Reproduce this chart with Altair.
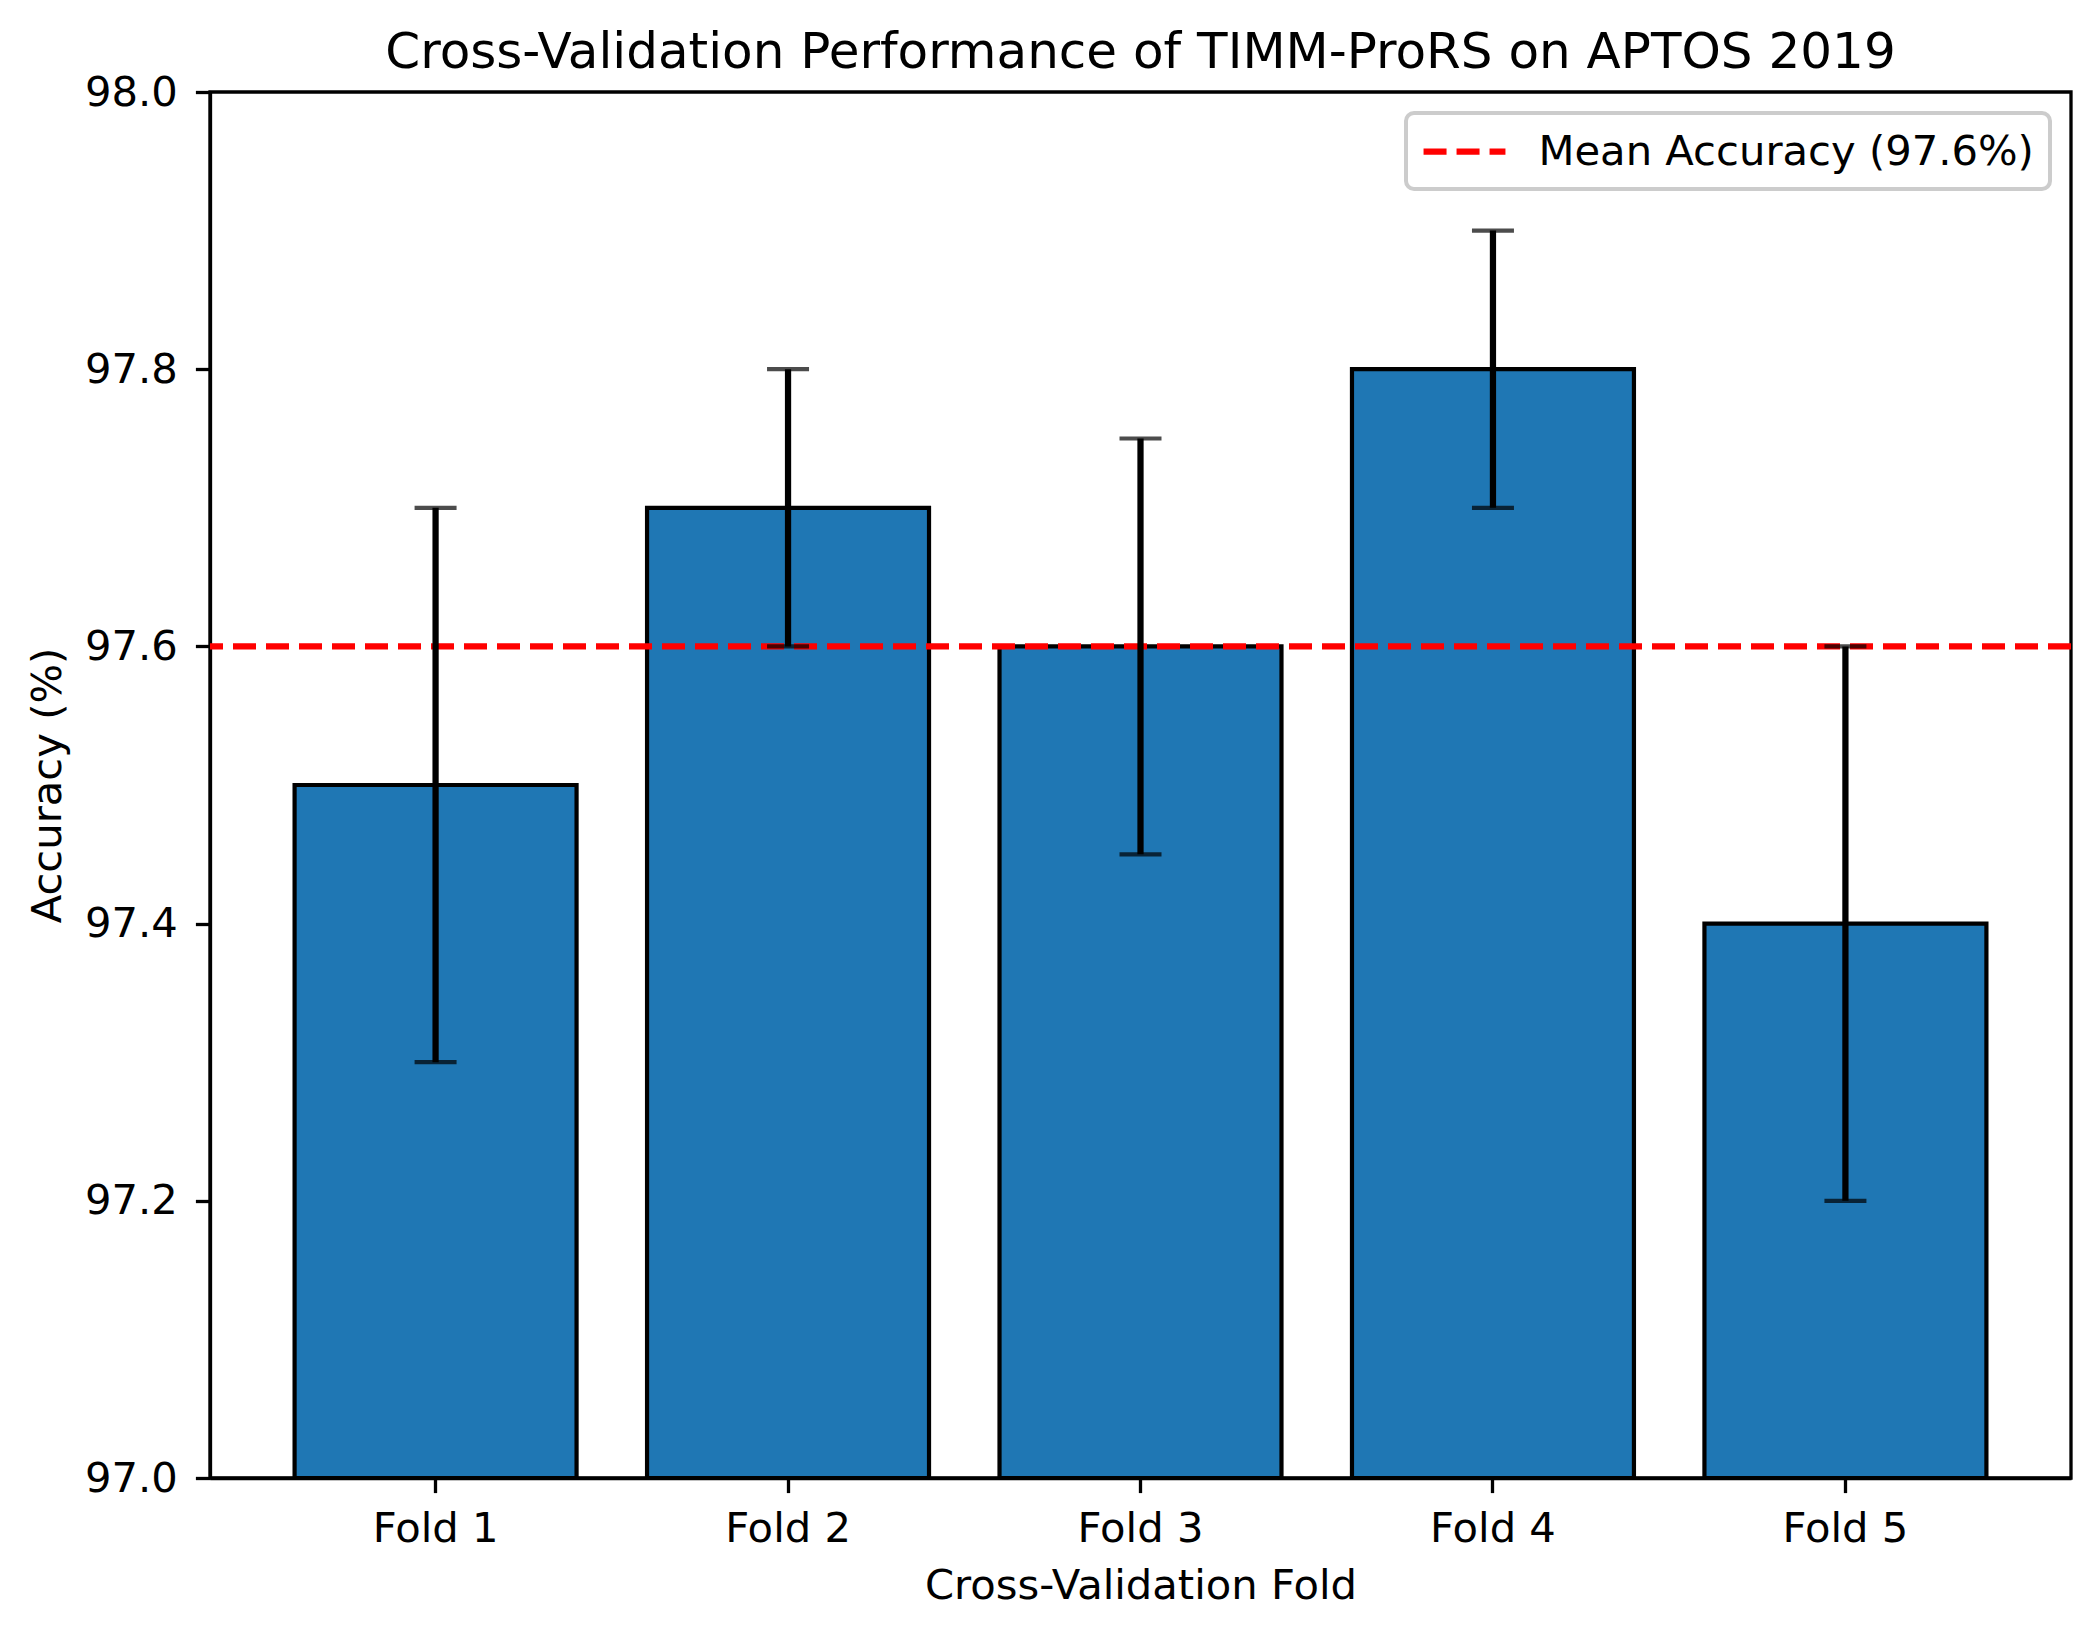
import altair as alt
import pandas as pd

folds = ["Fold 1", "Fold 2", "Fold 3", "Fold 4", "Fold 5"]
accuracy = [97.5, 97.7, 97.6, 97.8, 97.4]
errors = [0.2, 0.1, 0.15, 0.1, 0.2]
mean_acc = 97.6
mean_label = "Mean Accuracy (97.6%)"
y_ticks = [97.0, 97.2, 97.4, 97.6, 97.8, 98.0]

df = pd.DataFrame({
    "fold": folds,
    "acc": accuracy,
    "lo": [a - e for a, e in zip(accuracy, errors)],
    "hi": [a + e for a, e in zip(accuracy, errors)],
    "base": [97.0] * len(folds),
})
mean_df = pd.DataFrame({"mean": [mean_acc], "label": [mean_label]})

FONT = "DejaVu Sans"
FS = 41.7

x_enc = alt.X(
    "fold:N",
    sort=folds,
    scale=alt.Scale(paddingInner=0.2, paddingOuter=0.24),
    axis=alt.Axis(
        title="Cross-Validation Fold",
        labelAngle=0,
        labelPadding=16,
        titlePadding=15,
    ),
)
y_scale = alt.Scale(domain=[97.0, 98.0], zero=False, nice=False)
y_axis = alt.Axis(
    title="Accuracy (%)",
    values=y_ticks,
    format=".1f",
    labelPadding=18,
    titlePadding=15,
)

bars = alt.Chart(df).mark_bar(
    color="#1f77b4", stroke="black", strokeWidth=4.2
).encode(
    x=x_enc,
    y=alt.Y("acc:Q", scale=y_scale, axis=y_axis),
    y2="base:Q",
)

stems = alt.Chart(df).mark_rule(color="black", strokeWidth=6.25).encode(
    x=alt.X("fold:N", sort=folds),
    y="lo:Q",
    y2="hi:Q",
)

caps_lo = alt.Chart(df).mark_tick(
    color="black", size=42, thickness=4.2, orient="horizontal"
).encode(x=alt.X("fold:N", sort=folds), y="lo:Q")
caps_hi = alt.Chart(df).mark_tick(
    color="black", size=42, thickness=4.2, orient="horizontal"
).encode(x=alt.X("fold:N", sort=folds), y="hi:Q")

mean_line = alt.Chart(mean_df).mark_rule(
    strokeDash=[23, 10], strokeWidth=6.25
).encode(
    y="mean:Q",
    color=alt.Color(
        "label:N",
        scale=alt.Scale(domain=[mean_label], range=["#ff0000"]),
        legend=alt.Legend(
            title=None,
            orient="none",
            legendX=1196,
            legendY=21,
            symbolType="M-2.1,0H2.1",
            symbolSize=1521,
            symbolStrokeWidth=6.25,
            symbolOffset=20,
            labelOffset=51,
            labelFontSize=FS,
            labelFont=FONT,
            labelColor="black",
            labelLimit=1000,
            padding=15.5,
            strokeColor="#cccccc",
            fillColor="white",
            cornerRadius=8,
        ),
    ),
)

chart = alt.layer(bars, mean_line, stems, caps_lo, caps_hi).properties(
    width=1861,
    height=1386,
    background="white",
    title=alt.TitleParams(
        "Cross-Validation Performance of TIMM-ProRS on APTOS 2019",
        fontSize=50,
        font=FONT,
        fontWeight="normal",
        color="black",
        anchor="middle",
        frame="group",
        offset=-6,
    ),
    autosize=alt.AutoSizeParams(type="none"),
    padding={"left": 202, "top": 84, "right": 21, "bottom": 152},
).configure_view(
    stroke="black", strokeWidth=3.3
).configure_axis(
    labelFont=FONT,
    titleFont=FONT,
    labelFontSize=FS,
    titleFontSize=FS,
    titleFontWeight="normal",
    labelColor="black",
    titleColor="black",
    domainColor="black",
    domainWidth=3.3,
    tickColor="black",
    tickWidth=3.3,
    tickSize=14.6,
    grid=False,
    zindex=1,
).configure_legend(
    strokeWidth=4,
    symbolDash=[23, 10],
)

chart.save("out.html", embed_options={"renderer": "svg", "actions": False})
